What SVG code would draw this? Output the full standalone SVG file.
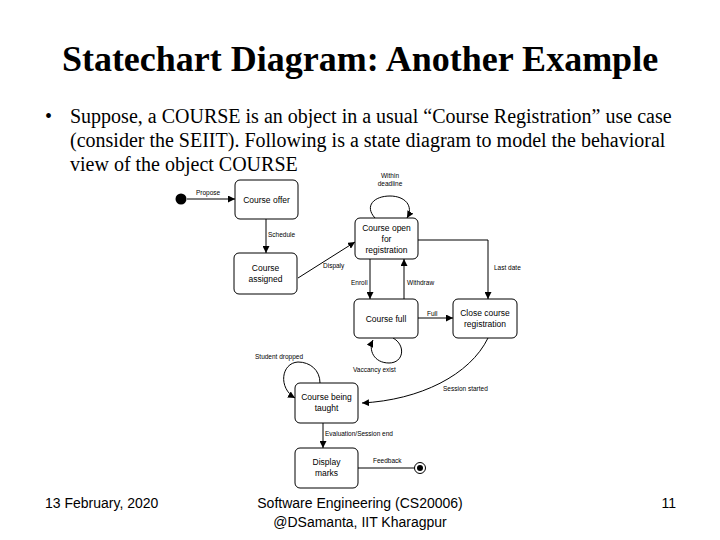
<svg xmlns="http://www.w3.org/2000/svg" width="720" height="540" viewBox="0 0 720 540">
<defs>
<marker id="arr" viewBox="0 0 10 10" refX="10" refY="5" markerWidth="7" markerHeight="7" orient="auto" markerUnits="userSpaceOnUse"><path d="M0,0 L10,5 L0,10 z" fill="#000"/></marker>
<style>
.st{fill:#fff;stroke:#000;stroke-width:1}
.nl{font-family:"Liberation Sans",Arial,sans-serif;font-size:8.5px;text-anchor:middle;fill:#000}
.el{font-family:"Liberation Sans",Arial,sans-serif;font-size:6.5px;fill:#000}
.c{fill:none;stroke:#000;stroke-width:1}
.ca{fill:none;stroke:#000;stroke-width:1;marker-end:url(#arr)}
.tt{font-family:"Liberation Serif","Times New Roman",serif;fill:#000}
.ft{font-family:"Liberation Sans",Arial,sans-serif;font-size:14px;fill:#000}
</style>
</defs>
<rect width="720" height="540" fill="#fff"/>
<text class="tt" x="360" y="71" font-size="36" font-weight="bold" text-anchor="middle">Statechart Diagram: Another Example</text>
<text class="tt" x="45" y="123" font-size="20">•</text>
<text class="tt" x="70" y="123" font-size="20">Suppose, a COURSE is an object in a usual “Course Registration” use case</text>
<text class="tt" x="70" y="147" font-size="20">(consider the SEIIT). Following is a state diagram to model the behavioral</text>
<text class="tt" x="70" y="171" font-size="20">view of the object COURSE</text>

<g id="connectors">
<line class="ca" x1="187" y1="199" x2="235" y2="199"/>
<line class="ca" x1="266" y1="219" x2="266" y2="253"/>
<line class="ca" x1="298" y1="278" x2="355" y2="242"/>
<path class="ca" d="M375,218 C364,206 374,196 390,196 C405,196 414,206 407,218"/>
<line class="ca" x1="370" y1="259" x2="370" y2="299"/>
<line class="ca" x1="404" y1="299" x2="404" y2="259"/>
<polyline class="ca" points="418,240 488,240 488,299"/>
<line class="ca" x1="418" y1="318" x2="453" y2="318"/>
<path class="ca" d="M393,338 C406,345 404,363 389,363 C374,363 368,350 373,340"/>
<path class="ca" d="M320,383 C320,370 310,362 298,362 C281,363 278,388 295,398"/>
<path class="ca" d="M488,338 C470,375 420,400 362,403"/>
<line class="ca" x1="323" y1="423" x2="323" y2="448"/>
<line class="c" x1="358" y1="468" x2="414" y2="468"/>
</g>

<g id="initial"><circle cx="181" cy="199" r="5.5" fill="#000"/></g>
<g id="course-offer"><rect class="st" x="235" y="180" width="63" height="39" rx="5"/><text class="nl" x="266.5" y="202.5">Course offer</text></g>
<g id="course-assigned"><rect class="st" x="234" y="253" width="63" height="41" rx="5"/><text class="nl" x="265.5" y="271">Course</text><text class="nl" x="265.5" y="282">assigned</text></g>
<g id="course-open"><rect class="st" x="355" y="218" width="63" height="41" rx="5"/><text class="nl" x="386.5" y="231">Course open</text><text class="nl" x="386.5" y="242">for</text><text class="nl" x="386.5" y="253">registration</text></g>
<g id="course-full"><rect class="st" x="354" y="299" width="64" height="39" rx="5"/><text class="nl" x="386" y="321.5">Course full</text></g>
<g id="close-reg"><rect class="st" x="453" y="299" width="64" height="39" rx="5"/><text class="nl" x="485" y="316">Close course</text><text class="nl" x="485" y="327">registration</text></g>
<g id="course-taught"><rect class="st" x="295" y="383" width="63" height="40" rx="5"/><text class="nl" x="326.5" y="400">Course being</text><text class="nl" x="326.5" y="411">taught</text></g>
<g id="display-marks"><rect class="st" x="295" y="448" width="63" height="40" rx="5"/><text class="nl" x="326.5" y="465">Display</text><text class="nl" x="326.5" y="476">marks</text></g>
<g id="final"><circle cx="420" cy="468" r="5.5" fill="#fff" stroke="#000" stroke-width="1"/><circle cx="420" cy="468" r="3" fill="#000"/></g>

<g id="labels">
<text class="el" x="196" y="195">Propose</text>
<text class="el" x="268" y="237">Schedule</text>
<text class="el" x="323" y="268">Dispaly</text>
<text class="el" x="390" y="178" text-anchor="middle">Within</text>
<text class="el" x="390" y="186" text-anchor="middle">deadline</text>
<text class="el" x="351" y="285">Enroll</text>
<text class="el" x="407" y="285">Withdraw</text>
<text class="el" x="494" y="270">Last date</text>
<text class="el" x="427" y="316">Full</text>
<text class="el" x="353" y="372">Vaccancy exist</text>
<text class="el" x="255" y="359">Student dropped</text>
<text class="el" x="443" y="391">Session started</text>
<text class="el" x="325" y="436">Evaluation/Session end</text>
<text class="el" x="373" y="463">Feedback</text>
</g>

<text class="ft" x="45" y="508">13 February, 2020</text>
<text class="ft" x="360" y="508" text-anchor="middle">Software Engineering (CS20006)</text>
<text class="ft" x="360" y="527" text-anchor="middle">@DSamanta, IIT Kharagpur</text>
<text class="ft" x="676" y="508" text-anchor="end">11</text>
</svg>
